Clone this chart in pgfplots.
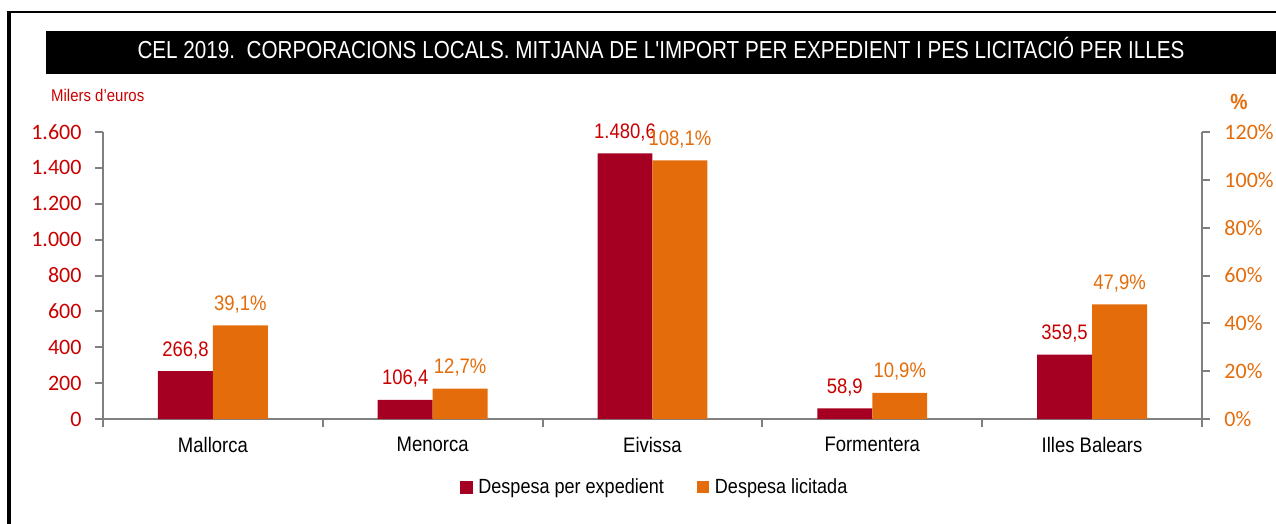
\documentclass[border=0pt]{standalone}
\usepackage{fontspec}
\setmainfont[FakeStretch=0.88]{Liberation Sans}
\newfontfamily\carlito{Carlito}
\newfontfamily\titlefont[FakeStretch=0.84]{Liberation Sans}
\usepackage{pgfplots}
\pgfplotsset{compat=1.18}
\definecolor{dred}{RGB}{165,0,33}
\definecolor{orng}{RGB}{228,108,10}
\definecolor{tred}{RGB}{200,0,0}
\definecolor{axgray}{RGB}{128,128,128}
\begin{document}
\begin{tikzpicture}
\useasboundingbox (0,0) rectangle (1276pt,-524pt);
\draw[line width=2pt] (9pt,-12pt) -- (1276pt,-12pt);
\draw[line width=3.5pt] (9pt,-524pt) -- (9pt,-11pt);
\fill[black] (46pt,-31pt) rectangle (1276pt,-74pt);
\node[white, anchor=base, inner sep=0pt, font=\titlefont\fontsize{24.6}{28}\selectfont] at (661pt,-58.3pt) {CEL 2019.\ \ CORPORACIONS LOCALS. MITJANA DE L'IMPORT PER EXPEDIENT I PES LICITACIÓ PER ILLES};
\node[tred, anchor=base west, inner sep=0pt, font=\fontsize{17}{20}\selectfont] at (51pt,-101.7pt) {Milers d'euros};
\node[orng, anchor=base, inner sep=0pt, font=\bfseries\fontsize{22}{24}\selectfont] at (1239pt,-109.3pt) {\%};

\begin{axis}[
  at={(103pt,-419pt)}, anchor=south west, scale only axis,
  width=1099pt, height=287pt,
  xmin=0, xmax=5, ymin=0, ymax=1600,
  axis x line*=bottom, axis y line*=left,
  xtick={0,1,2,3,4,5}, xticklabels={},
  extra x ticks={0.5,1.5,2.5,3.5,4.5},
  extra x tick labels={Mallorca,Menorca,Eivissa,Formentera,Illes Balears},
  extra x tick style={major tick length=0pt, tick style={draw=none}},
  ytick={0,200,...,1600},
  tick align=outside, major tick length=8pt,
  axis line style={axgray, line width=2pt},
  tick style={axgray, line width=2pt},
  y tick label style={font=\carlito\fontsize{22}{24}\selectfont, color=tred, xshift=-10pt, /pgf/number format/.cd, 1000 sep={.}, assume math mode=true},
  x tick label style={font=\fontsize{21}{24}\selectfont, black, yshift=-15pt},
  ybar, bar width=0.25, bar shift=-0.125,
  nodes near coords={\pgfmathprintnumber[fixed,fixed zerofill,precision=1,use comma,1000 sep={.},assume math mode=true]{\pgfplotspointmeta}},
  nodes near coords style={font=\fontsize{21}{24}\selectfont, color=tred, anchor=base, inner sep=0pt, yshift=15pt},
]
\addplot[fill=dred, draw=none] coordinates {(0.5,266.8) (1.5,106.4) (2.5,1480.6) (3.5,58.9) (4.5,359.5)};
\end{axis}

\begin{axis}[
  at={(103pt,-419pt)}, anchor=south west, scale only axis,
  width=1099pt, height=287pt,
  xmin=0, xmax=5, ymin=0, ymax=120,
  axis x line=none, axis y line*=right,
  ytick={0,20,...,120},
  yticklabel={\pgfmathprintnumber[assume math mode=true]{\tick}\%},
  tick align=outside, major tick length=8pt,
  axis line style={axgray, line width=2pt},
  tick style={axgray, line width=2pt},
  y tick label style={font=\carlito\fontsize{22}{24}\selectfont, color=orng, xshift=11pt},
  ybar, bar width=0.25, bar shift=0.125,
  nodes near coords={\pgfmathprintnumber[fixed,fixed zerofill,precision=1,use comma,assume math mode=true]{\pgfplotspointmeta}\%},
  nodes near coords style={font=\fontsize{21}{24}\selectfont, color=orng, anchor=base, inner sep=0pt, yshift=15pt},
  legend style={at={(0.502,-0.237)}, anchor=center, draw=none, fill=none, legend columns=2,
    font=\fontsize{20.5}{24}\selectfont, /tikz/every even column/.append style={column sep=31pt}},
]
\addlegendimage{legend image code/.code={\fill[dred] (0pt,-6pt) rectangle (12pt,6pt); \path (16pt,0pt);}}
\addplot[fill=orng, draw=none, legend image code/.code={\fill[orng] (0pt,-6pt) rectangle (12pt,6pt); \path (16pt,0pt);}] coordinates {(0.5,39.1) (1.5,12.7) (2.5,108.1) (3.5,10.9) (4.5,47.9)};
\legend{Despesa per expedient, Despesa licitada}
\end{axis}
\end{tikzpicture}
\end{document}
